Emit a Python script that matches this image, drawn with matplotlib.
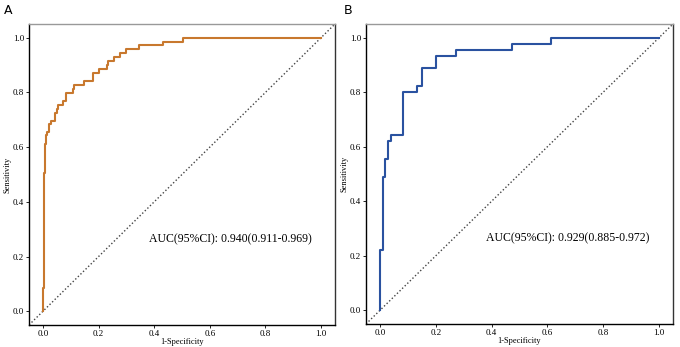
import matplotlib
matplotlib.use("Agg")
import matplotlib.pyplot as plt

# ROC curves: x of each vertical rise, sensitivity after it
fpr_a = [0.000, 0.004, 0.007, 0.012, 0.016, 0.022, 0.030, 0.042, 0.049, 0.055,
         0.072, 0.084, 0.107, 0.111, 0.147, 0.179, 0.203, 0.229, 0.235, 0.257,
         0.279, 0.299, 0.345, 0.432, 0.505]
tpr_a = [0.086, 0.507, 0.610, 0.643, 0.655, 0.683, 0.697, 0.723, 0.740, 0.755,
         0.770, 0.798, 0.812, 0.827, 0.842, 0.870, 0.886, 0.900, 0.914, 0.928,
         0.943, 0.957, 0.972, 0.986, 1.000]

fpr_b = [0.000, 0.010, 0.019, 0.029, 0.039, 0.081, 0.132, 0.151, 0.202, 0.272,
         0.472, 0.613]
tpr_b = [0.222, 0.489, 0.556, 0.622, 0.644, 0.800, 0.822, 0.889, 0.933, 0.956,
         0.978, 1.000]

auc_text = ["AUC(95%CI): 0.940(0.911-0.969)", "AUC(95%CI): 0.929(0.885-0.972)"]
colors = ["#C8782E", "#2A52A0"]
panels = ["A", "B"]
ticks = [0.0, 0.2, 0.4, 0.6, 0.8, 1.0]

serif = "Liberation Serif"

fig = plt.figure(figsize=(6.8, 3.47), dpi=100)
axes = [fig.add_axes([0.0426, 0.0634, 0.450, 0.8674]),
        fig.add_axes([0.5382, 0.0663, 0.4515, 0.8645])]

data = [(fpr_a, tpr_a), (fpr_b, tpr_b)]
for i, ax in enumerate(axes):
    fpr, tpr = data[i]
    ax.set_xlim(-0.05, 1.05)
    ax.set_ylim(-0.05, 1.05)
    # reference diagonal over the whole panel
    ax.plot([-0.05, 1.05], [-0.05, 1.05], color="#444444", linestyle=(0, (1, 1.6)),
            linewidth=1.0, zorder=1)
    ax.step([0.0] + fpr + [1.0], [0.0] + tpr + [1.0], where="post",
            color=colors[i], linewidth=1.5, zorder=2)
    ax.text(0.38, 0.264, auc_text[i], family=serif, fontsize=8.5,
            va="center", ha="left")
    ax.set_xticks(ticks)
    ax.set_yticks(ticks)
    ax.set_xticklabels(["%.1f" % t for t in ticks], family=serif, fontsize=6.5)
    ax.set_yticklabels(["%.1f" % t for t in ticks], family=serif, fontsize=6.5)
    ax.tick_params(length=2, width=0.6, pad=1.5, colors="black")
    ax.set_xlabel("1-Specificity", family=serif, fontsize=6, labelpad=0)
    ax.set_ylabel("Sensitivity", family=serif, fontsize=6, labelpad=1)
    ax.spines["left"].set_color("black")
    ax.spines["bottom"].set_color("black")
    ax.spines["top"].set_color("#999999")
    ax.spines["right"].set_color("#333333")
    for s in ax.spines.values():
        s.set_linewidth(1.0)

fig.text(4 / 680, 1 - 10 / 347, panels[0], fontsize=9, va="center", ha="left",
         family="DejaVu Sans")
fig.text(344 / 680, 1 - 10 / 347, panels[1], fontsize=9, va="center", ha="left",
         family="DejaVu Sans")

fig.savefig("out.png", dpi=100)
